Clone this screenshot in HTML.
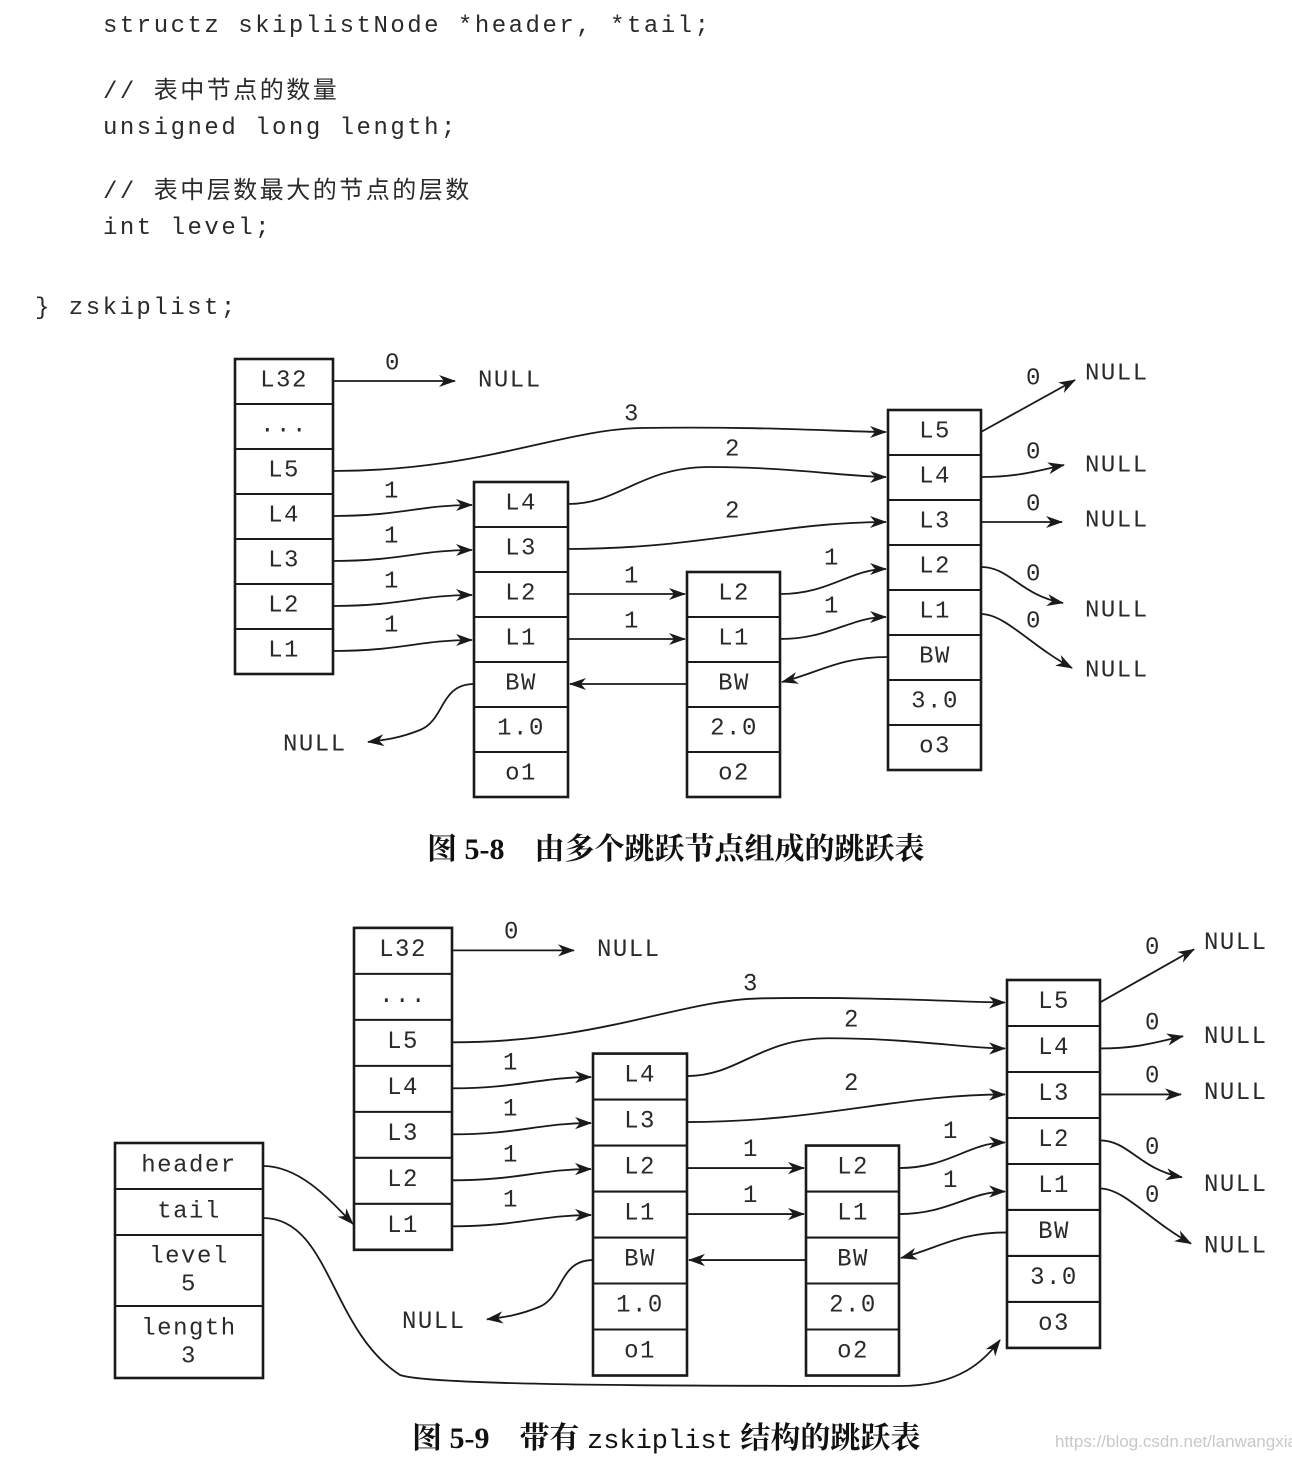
<!DOCTYPE html>
<html><head><meta charset="utf-8"><style>
html,body{margin:0;padding:0;background:#fff;}
svg{display:block;}
.m{font-family:"Liberation Mono","Noto Sans CJK SC",monospace;fill:#2a2a2a;}
.c{font-family:"Liberation Mono","Noto Sans CJK SC",monospace;font-size:24px;letter-spacing:1.5px;fill:#2a2a2a;text-anchor:middle;dominant-baseline:central;}
.n{font-family:"Liberation Mono",monospace;font-size:24px;letter-spacing:1.5px;fill:#2a2a2a;dominant-baseline:central;}
.box{fill:#fff;stroke:#1a1a1a;stroke-width:2.6;}
.ln{fill:none;stroke:#1a1a1a;stroke-width:2;}
.ar{fill:none;stroke:#1a1a1a;stroke-width:1.8;marker-end:url(#ah);}
.cap{font-family:"Liberation Serif","Noto Serif CJK SC",serif;font-size:30px;fill:#111;font-weight:bold;}
</style></head><body>
<svg width="1292" height="1460" viewBox="0 0 1292 1460" xmlns="http://www.w3.org/2000/svg">
<defs>
<marker id="ah" markerWidth="18" markerHeight="12" refX="16" refY="6" orient="auto" markerUnits="userSpaceOnUse">
<path d="M0,0 L17,6 L0,12 L5,6 Z" fill="#1a1a1a"/>
</marker>
<g id="dummy"></g>
</defs>

<!-- code -->
<g class="m" style="font-size:24px;letter-spacing:2.5px">
<text x="103" y="32">structz skiplistNode *header, *tail;</text>
<text x="103" y="98">// 表中节点的数量</text>
<text x="103" y="134">unsigned long length;</text>
<text x="103" y="198">// 表中层数最大的节点的层数</text>
<text x="103" y="234">int level;</text>
<text x="35" y="314">} zskiplist;</text>
</g>

<!-- FIGURE 1 -->
<g id="f1">
<!-- header column -->
<rect class="box" x="235" y="359" width="98" height="315"/>
<path class="ln" d="M235,404H333M235,449H333M235,494H333M235,539H333M235,584H333M235,629H333"/>
<text class="c" x="284" y="381">L32</text>
<text class="c" x="284" y="426">...</text>
<text class="c" x="284" y="471">L5</text>
<text class="c" x="284" y="516">L4</text>
<text class="c" x="284" y="561">L3</text>
<text class="c" x="284" y="606">L2</text>
<text class="c" x="284" y="651">L1</text>
<!-- node1 -->
<rect class="box" x="474" y="482" width="94" height="315"/>
<path class="ln" d="M474,527H568M474,572H568M474,617H568M474,662H568M474,707H568M474,752H568"/>
<text class="c" x="521" y="504">L4</text>
<text class="c" x="521" y="549">L3</text>
<text class="c" x="521" y="594">L2</text>
<text class="c" x="521" y="639">L1</text>
<text class="c" x="521" y="684">BW</text>
<text class="c" x="521" y="729">1.0</text>
<text class="c" x="521" y="774">o1</text>
<!-- node2 -->
<rect class="box" x="687" y="572" width="93" height="225"/>
<path class="ln" d="M687,617H780M687,662H780M687,707H780M687,752H780"/>
<text class="c" x="734" y="594">L2</text>
<text class="c" x="734" y="639">L1</text>
<text class="c" x="734" y="684">BW</text>
<text class="c" x="734" y="729">2.0</text>
<text class="c" x="734" y="774">o2</text>
<!-- node3 -->
<rect class="box" x="888" y="410" width="93" height="360"/>
<path class="ln" d="M888,455H981M888,500H981M888,545H981M888,590H981M888,635H981M888,680H981M888,725H981"/>
<text class="c" x="935" y="432">L5</text>
<text class="c" x="935" y="477">L4</text>
<text class="c" x="935" y="522">L3</text>
<text class="c" x="935" y="567">L2</text>
<text class="c" x="935" y="612">L1</text>
<text class="c" x="935" y="657">BW</text>
<text class="c" x="935" y="702">3.0</text>
<text class="c" x="935" y="747">o3</text>
<!-- connectors -->
<path class="ar" d="M333,381H455"/>
<text class="c" x="393" y="364">0</text>
<text class="n" x="478" y="381">NULL</text>
<path class="ar" d="M333,471 C480,471 560,430 640,428 C760,426 850,432 886,432"/>
<text class="c" x="632" y="415">3</text>
<path class="ar" d="M333,516 C400,516 420,505 472,505"/>
<path class="ar" d="M333,561 C400,561 420,550 472,550"/>
<path class="ar" d="M333,606 C400,606 420,595 472,595"/>
<path class="ar" d="M333,651 C400,651 420,640 472,640"/>
<text class="c" x="392" y="492">1</text>
<text class="c" x="392" y="537">1</text>
<text class="c" x="392" y="582">1</text>
<text class="c" x="392" y="626">1</text>
<path class="ar" d="M568,504 C620,504 640,467 710,467 C790,467 850,477 886,477"/>
<text class="c" x="733" y="450">2</text>
<path class="ar" d="M568,549 C700,549 780,522 886,522"/>
<text class="c" x="733" y="512">2</text>
<path class="ar" d="M568,594H685"/>
<path class="ar" d="M568,639H685"/>
<text class="c" x="632" y="577">1</text>
<text class="c" x="632" y="622">1</text>
<path class="ar" d="M780,594 C830,594 850,569 886,569"/>
<path class="ar" d="M780,639 C830,639 850,617 886,617"/>
<text class="c" x="832" y="559">1</text>
<text class="c" x="832" y="607">1</text>
<path class="ar" d="M687,684H570"/>
<path class="ar" d="M888,657 C840,657 820,672 782,682"/>
<path class="ar" d="M474,684 C440,684 445,720 420,730 C400,738 385,740 368,742"/>
<text class="n" x="283" y="745">NULL</text>
<path class="ar" d="M981,432 L1075,380"/>
<path class="ar" d="M981,477 C1020,477 1040,470 1064,465"/>
<path class="ar" d="M981,522H1062"/>
<path class="ar" d="M981,567 C1010,567 1020,595 1063,603"/>
<path class="ar" d="M981,614 C1005,614 1030,645 1072,668"/>
<text class="c" x="1034" y="379">0</text>
<text class="c" x="1034" y="453">0</text>
<text class="c" x="1034" y="505">0</text>
<text class="c" x="1034" y="575">0</text>
<text class="c" x="1034" y="622">0</text>
<text class="n" x="1085" y="374">NULL</text>
<text class="n" x="1085" y="466">NULL</text>
<text class="n" x="1085" y="521">NULL</text>
<text class="n" x="1085" y="611">NULL</text>
<text class="n" x="1085" y="671">NULL</text>
</g>

<text class="cap" x="427" y="859">图 5-8<tspan dx="30">由多个跳跃节点组成的跳跃表</tspan></text>

<!-- FIGURE 2 -->
<g transform="translate(119,980) scale(1,1.022) translate(0,-410)">
<rect class="box" x="235" y="359" width="98" height="315"/>
<path class="ln" d="M235,404H333M235,449H333M235,494H333M235,539H333M235,584H333M235,629H333"/>
<text class="c" x="284" y="381">L32</text>
<text class="c" x="284" y="426">...</text>
<text class="c" x="284" y="471">L5</text>
<text class="c" x="284" y="516">L4</text>
<text class="c" x="284" y="561">L3</text>
<text class="c" x="284" y="606">L2</text>
<text class="c" x="284" y="651">L1</text>
<rect class="box" x="474" y="482" width="94" height="315"/>
<path class="ln" d="M474,527H568M474,572H568M474,617H568M474,662H568M474,707H568M474,752H568"/>
<text class="c" x="521" y="504">L4</text>
<text class="c" x="521" y="549">L3</text>
<text class="c" x="521" y="594">L2</text>
<text class="c" x="521" y="639">L1</text>
<text class="c" x="521" y="684">BW</text>
<text class="c" x="521" y="729">1.0</text>
<text class="c" x="521" y="774">o1</text>
<rect class="box" x="687" y="572" width="93" height="225"/>
<path class="ln" d="M687,617H780M687,662H780M687,707H780M687,752H780"/>
<text class="c" x="734" y="594">L2</text>
<text class="c" x="734" y="639">L1</text>
<text class="c" x="734" y="684">BW</text>
<text class="c" x="734" y="729">2.0</text>
<text class="c" x="734" y="774">o2</text>
<rect class="box" x="888" y="410" width="93" height="360"/>
<path class="ln" d="M888,455H981M888,500H981M888,545H981M888,590H981M888,635H981M888,680H981M888,725H981"/>
<text class="c" x="935" y="432">L5</text>
<text class="c" x="935" y="477">L4</text>
<text class="c" x="935" y="522">L3</text>
<text class="c" x="935" y="567">L2</text>
<text class="c" x="935" y="612">L1</text>
<text class="c" x="935" y="657">BW</text>
<text class="c" x="935" y="702">3.0</text>
<text class="c" x="935" y="747">o3</text>
<path class="ar" d="M333,381H455"/>
<text class="c" x="393" y="364">0</text>
<text class="n" x="478" y="381">NULL</text>
<path class="ar" d="M333,471 C480,471 560,430 640,428 C760,426 850,432 886,432"/>
<text class="c" x="632" y="415">3</text>
<path class="ar" d="M333,516 C400,516 420,505 472,505"/>
<path class="ar" d="M333,561 C400,561 420,550 472,550"/>
<path class="ar" d="M333,606 C400,606 420,595 472,595"/>
<path class="ar" d="M333,651 C400,651 420,640 472,640"/>
<text class="c" x="392" y="492">1</text>
<text class="c" x="392" y="537">1</text>
<text class="c" x="392" y="582">1</text>
<text class="c" x="392" y="626">1</text>
<path class="ar" d="M568,504 C620,504 640,467 710,467 C790,467 850,477 886,477"/>
<text class="c" x="733" y="450">2</text>
<path class="ar" d="M568,549 C700,549 780,522 886,522"/>
<text class="c" x="733" y="512">2</text>
<path class="ar" d="M568,594H685"/>
<path class="ar" d="M568,639H685"/>
<text class="c" x="632" y="577">1</text>
<text class="c" x="632" y="622">1</text>
<path class="ar" d="M780,594 C830,594 850,569 886,569"/>
<path class="ar" d="M780,639 C830,639 850,617 886,617"/>
<text class="c" x="832" y="559">1</text>
<text class="c" x="832" y="607">1</text>
<path class="ar" d="M687,684H570"/>
<path class="ar" d="M888,657 C840,657 820,672 782,682"/>
<path class="ar" d="M474,684 C440,684 445,720 420,730 C400,738 385,740 368,742"/>
<text class="n" x="283" y="745">NULL</text>
<path class="ar" d="M981,432 L1075,380"/>
<path class="ar" d="M981,477 C1020,477 1040,470 1064,465"/>
<path class="ar" d="M981,522H1062"/>
<path class="ar" d="M981,567 C1010,567 1020,595 1063,603"/>
<path class="ar" d="M981,614 C1005,614 1030,645 1072,668"/>
<text class="c" x="1034" y="379">0</text>
<text class="c" x="1034" y="453">0</text>
<text class="c" x="1034" y="505">0</text>
<text class="c" x="1034" y="575">0</text>
<text class="c" x="1034" y="622">0</text>
<text class="n" x="1085" y="374">NULL</text>
<text class="n" x="1085" y="466">NULL</text>
<text class="n" x="1085" y="521">NULL</text>
<text class="n" x="1085" y="611">NULL</text>
<text class="n" x="1085" y="671">NULL</text>
</g>

<!-- zskiplist struct -->
<rect class="box" x="115" y="1143" width="148" height="235"/>
<path class="ln" d="M115,1189H263M115,1235H263M115,1306H263"/>
<text class="c" x="189" y="1166">header</text>
<text class="c" x="189" y="1212">tail</text>
<text class="c" x="189" y="1257">level</text>
<text class="c" x="189" y="1285">5</text>
<text class="c" x="189" y="1329">length</text>
<text class="c" x="189" y="1357">3</text>
<path class="ar" d="M263,1166 C300,1166 330,1200 353,1224"/>
<path class="ar" d="M263,1218 C330,1218 330,1330 400,1375 C430,1386 700,1386 900,1386 C960,1386 985,1360 1000,1340"/>

<text class="cap" x="412" y="1448">图 5-9<tspan dx="30">带有 </tspan><tspan style="font-family:'Liberation Mono',monospace;font-weight:normal;font-size:27px">zskiplist</tspan><tspan> 结构的跳跃表</tspan></text>
<text x="1055" y="1447" style="font-family:'Liberation Sans',sans-serif;font-size:17px;fill:#c8c8c8">https://blog.csdn.net/lanwangxia</text>
</svg>
</body></html>
